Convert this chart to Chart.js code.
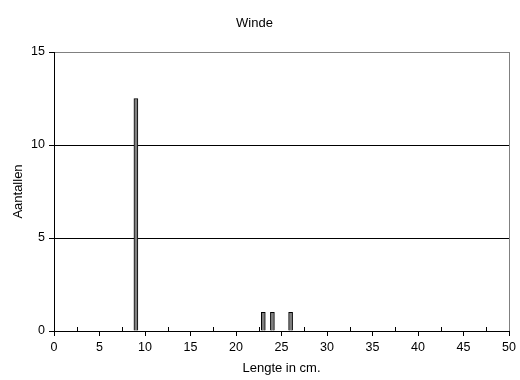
<!DOCTYPE html>
<html>
<head>
<meta charset="utf-8">
<script src="https://cdn.jsdelivr.net/npm/chart.js@4"></script>
<style>
  html, body { margin: 0; padding: 0; background: #fff; }
  #wrap { width: 520px; height: 380px; }
</style>
</head>
<body>
<div id="wrap"><canvas id="chart" width="520" height="380"></canvas></div>
<script>
// --- DATA ---
const lengths = [9, 23, 24, 26];
const counts = [12.5, 1, 1, 1];
const xTicks = [0, 5, 10, 15, 20, 25, 30, 35, 40, 45, 50];
const yTicks = [0, 5, 10, 15];

const FONT = { family: "'Liberation Sans', Arial, sans-serif", size: 13, weight: "normal" };
const TICK_FONT = { family: "'Liberation Sans', Arial, sans-serif", size: 12.5, weight: "normal" };

// small inward ticks halfway between the labelled ones
const minorTicks = {
  id: "minorTicks",
  afterDraw(chart) {
    const x = chart.scales.x;
    const bottom = chart.chartArea.bottom;
    const ctx = chart.ctx;
    ctx.save();
    ctx.strokeStyle = "#000";
    ctx.lineWidth = 1;
    for (let i = 0; i < xTicks.length - 1; i++) {
      const v = (xTicks[i] + xTicks[i + 1]) / 2;
      const px = Math.round(x.getPixelForValue(v)) + 0.5;
      ctx.beginPath();
      ctx.moveTo(px, bottom);
      ctx.lineTo(px, bottom - 4);
      ctx.stroke();
    }
    ctx.restore();
  }
};

new Chart(document.getElementById("chart"), {
  type: "bar",
  data: {
    datasets: [{
      data: lengths.map((l, i) => ({ x: l, y: counts[i] })),
      backgroundColor: "#808080",
      borderColor: "#000",
      borderWidth: 1,
      barThickness: 4
    }]
  },
  options: {
    responsive: false,
    animation: false,
    layout: { padding: { left: 0, right: 11, top: 0, bottom: 0 } },
    plugins: {
      legend: { display: false },
      tooltip: { enabled: false },
      title: {
        display: true,
        text: "Winde",
        color: "#000",
        font: FONT,
        padding: { top: 15.2, bottom: 21.2 }
      }
    },
    scales: {
      x: {
        type: "linear",
        min: 0,
        max: 50,
        offset: false,
        afterBuildTicks: s => { s.ticks = xTicks.map(v => ({ value: v })); },
        afterFit: s => { s.height = 49; },
        ticks: { color: "#000", font: TICK_FONT, padding: 4, maxRotation: 0 },
        grid: {
          offset: false,
          color: c => (c.tick && c.tick.value === 50 ? "#808080" : "transparent"),
          tickColor: "#000",
          tickLength: 5
        },
        border: { color: "#000", width: 1 },
        title: {
          display: true,
          text: "Lengte in cm.",
          color: "#000",
          font: FONT,
          padding: { top: 0, bottom: 4.2 }
        }
      },
      y: {
        min: 0,
        max: 15,
        afterBuildTicks: s => { s.ticks = yTicks.map(v => ({ value: v })); },
        afterFit: s => { s.width = 54; },
        ticks: { color: "#000", font: TICK_FONT, padding: 4 },
        grid: {
          color: c => (c.tick && c.tick.value === 15 ? "#808080" : c.tick && c.tick.value === 0 ? "transparent" : "#000"),
          tickColor: "#000",
          tickLength: 5
        },
        border: { color: "#000", width: 1 },
        title: {
          display: true,
          text: "Aantallen",
          color: "#000",
          font: FONT,
          padding: { top: 10.2, bottom: 0 }
        }
      }
    }
  },
  plugins: [minorTicks]
});
</script>
</body>
</html>
